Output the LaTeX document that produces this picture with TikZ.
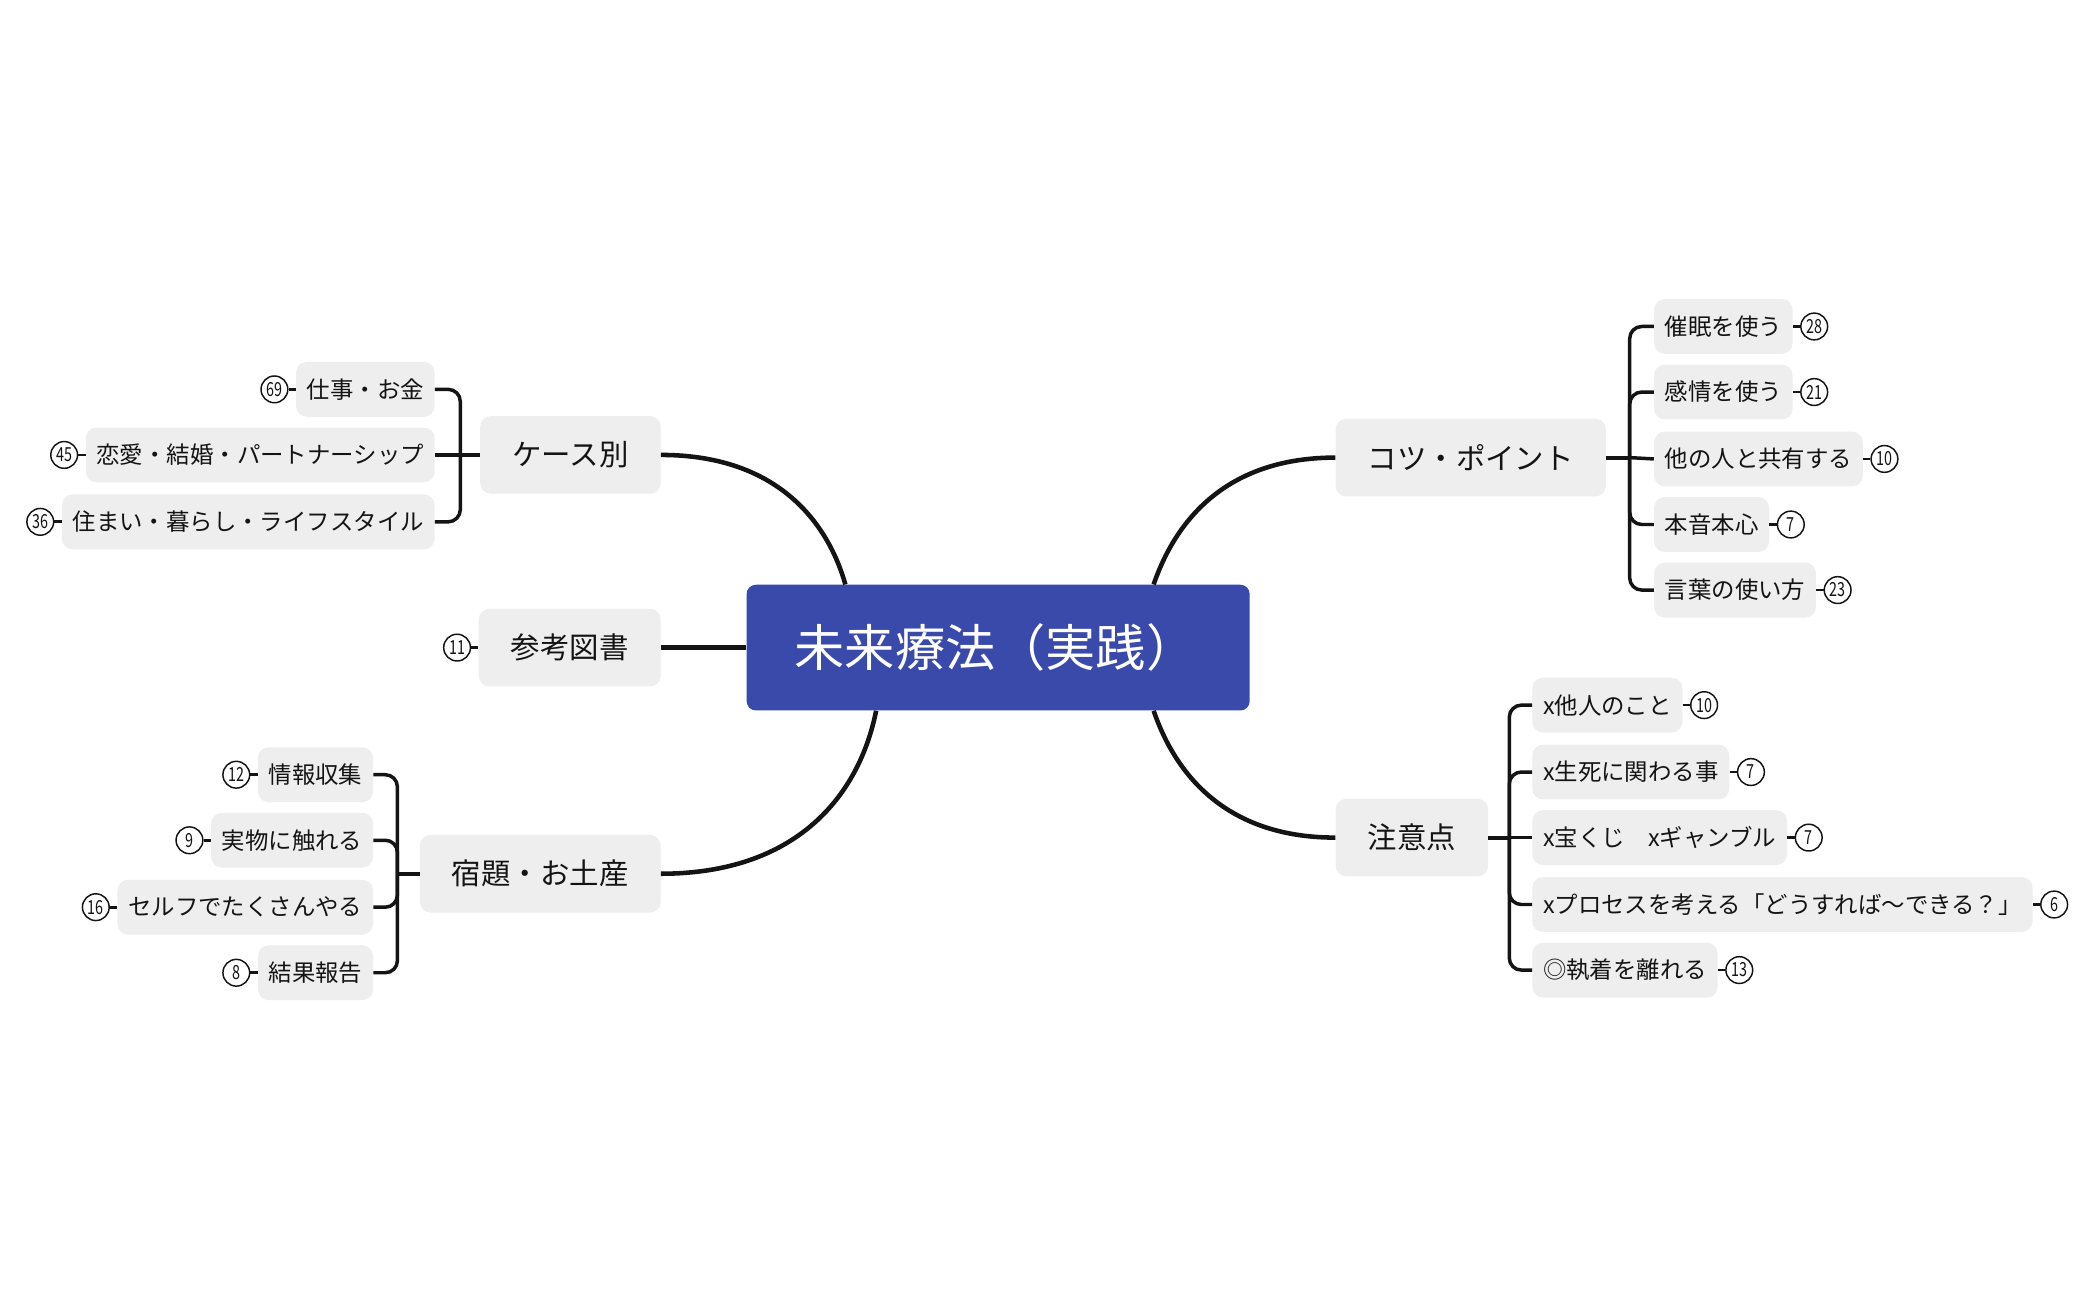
\documentclass[tikz,border=0pt]{standalone}
\usepackage{fontspec}
\setmainfont{Noto Sans CJK JP}
\usetikzlibrary{calc}
\definecolor{hub}{RGB}{58,74,171}
\definecolor{boxg}{RGB}{238,238,238}
\definecolor{ink}{RGB}{20,20,20}
\newcommand\cntfmt[1]{\scalebox{0.74}[1]{#1}}
\newcommand\Lsub[5]{%
  \node[sub,anchor=east] (#1) at (#2,#3) {#4};
  \node[cnt] (#1n) at ([xshift=-16pt]#1.west) {\cntfmt{#5}};
  \draw[tick] (#1n) -- (#1);}
\newcommand\Rsub[5]{%
  \node[sub,anchor=west] (#1) at (#2,#3) {#4};
  \node[cnt] (#1n) at ([xshift=16pt]#1.east) {\cntfmt{#5}};
  \draw[tick] (#1) -- (#1n);}
\begin{document}
\begin{tikzpicture}[x=1pt,y=-1pt,
  hubbox/.style={fill=hub, rounded corners=7pt, minimum width=376pt, minimum height=94pt, text=white, font=\fontsize{37.5}{40}\selectfont, inner sep=0pt},
  topic/.style={fill=boxg, rounded corners=8pt, minimum height=58pt, inner xsep=24pt, inner ysep=0pt, font=\fontsize{22}{26}\selectfont, text=ink},
  sub/.style={fill=boxg, rounded corners=8pt, minimum height=41pt, inner xsep=8pt, inner ysep=0pt, font=\fontsize{17.5}{20}\selectfont, text=ink},
  cnt/.style={circle, draw=ink, line width=1.1pt, fill=white, minimum size=20pt, inner sep=0pt, font=\fontsize{14.5}{14.5}\selectfont, text=ink},
  mainlink/.style={draw=ink, line width=3.4pt},
  stem/.style={draw=ink, line width=3pt},
  brk/.style={draw=ink, line width=2.6pt, rounded corners=9pt},
  tick/.style={draw=ink, line width=2pt},
]
\fill[white] (0,0) rectangle (1568,972);
\useasboundingbox (0,0) rectangle (1568,972);

% central and main topics
\node[hubbox] (hub) at (746,484) {未来療法（実践）\hspace*{4pt}};
\node[topic,anchor=east] (case) at (494,340) {ケース別};
\node[topic,anchor=east] (ref) at (494,484) {参考図書};
\node[topic,anchor=east] (home) at (494,653) {宿題・お土産};
\node[topic,anchor=west] (tips) at (998,342) {コツ・ポイント};
\node[topic,anchor=west] (warn) at (998,626) {注意点};

% main connectors
\draw[mainlink] (case.east) .. controls (585,340) and (620,395) .. ([xshift=74pt]hub.north west);
\draw[mainlink] (ref.east) -- (hub.west);
\draw[mainlink] (home.east) .. controls (595,653) and (642,595) .. ([xshift=97pt]hub.south west);
\draw[mainlink] ([xshift=-72pt]hub.north east) .. controls (880,385) and (920,342) .. (tips.west);
\draw[mainlink] ([xshift=-72pt]hub.south east) .. controls (880,583) and (920,626) .. (warn.west);

% reference count
\node[cnt] (refn) at ([xshift=-16pt]ref.west) {\cntfmt{11}};
\draw[tick] (refn) -- (ref);

% case children
\Lsub{c1}{325}{291}{仕事・お金}{69}
\Lsub{c2}{325}{340}{恋愛・結婚・パートナーシップ}{45}
\Lsub{c3}{325}{390}{住まい・暮らし・ライフスタイル}{36}
\coordinate (caseB) at (344,340);
\draw[stem] (case.west) -- (caseB);
\draw[brk] (caseB) |- (c1.east);
\draw[brk] (caseB) -- (c2.east);
\draw[brk] (caseB) |- (c3.east);

% homework children
\Lsub{h1}{279}{579}{情報収集}{12}
\Lsub{h2}{279}{628}{実物に触れる}{9}
\Lsub{h3}{279}{678}{セルフでたくさんやる}{16}
\Lsub{h4}{279}{727}{結果報告}{8}
\coordinate (homeB) at (297,653);
\draw[stem] (home.west) -- (homeB);
\foreach \c in {h1,h2,h3,h4} \draw[brk] (homeB) |- (\c.east);

% tips children
\Rsub{t1}{1236}{244}{催眠を使う}{28}
\Rsub{t2}{1236}{293}{感情を使う}{21}
\Rsub{t3}{1236}{343}{他の人と共有する}{10}
\Rsub{t4}{1236}{392}{本音本心}{7}
\Rsub{t5}{1236}{441}{言葉の使い方}{23}
\coordinate (tipsB) at (1218,342);
\draw[stem] (tips.east) -- (tipsB);
\foreach \c in {t1,t2,t4,t5} \draw[brk] (tipsB) |- (\c.west);
\draw[brk] (tipsB) -- (t3.west);

% warning children
\Rsub{w1}{1145}{527}{x他人のこと}{10}
\Rsub{w2}{1145}{577}{x生死に関わる事}{7}
\Rsub{w3}{1145}{626}{x宝くじ　xギャンブル}{7}
\Rsub{w4}{1145}{676}{xプロセスを考える「どうすれば〜できる？」}{6}
\Rsub{w5}{1145}{725}{◎執着を離れる}{13}
\coordinate (warnB) at (1128,626);
\draw[stem] (warn.east) -- (warnB);
\foreach \c in {w1,w2,w4,w5} \draw[brk] (warnB) |- (\c.west);
\draw[brk] (warnB) -- (w3.west);
\end{tikzpicture}
\end{document}
